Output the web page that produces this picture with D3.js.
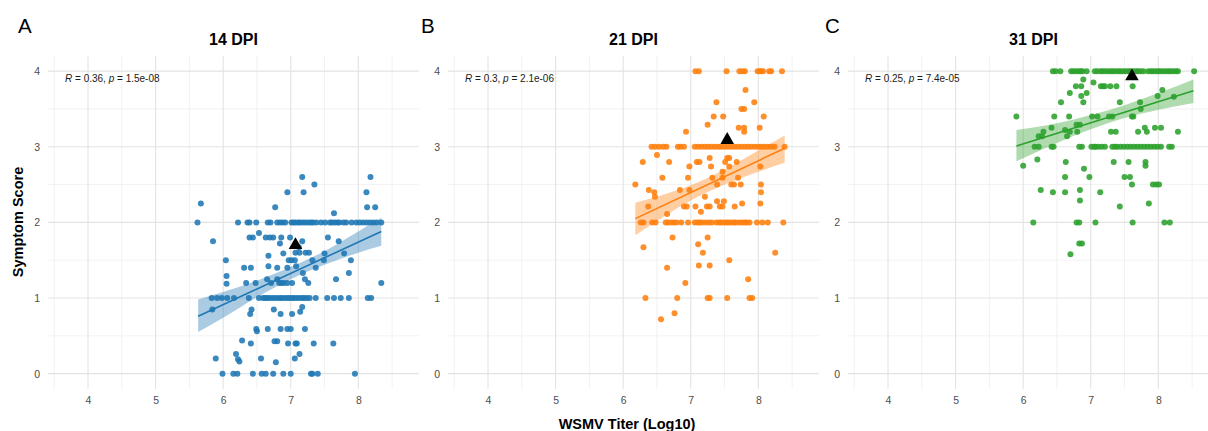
<!DOCTYPE html>
<html><head><meta charset="utf-8">
<script src="https://cdn.jsdelivr.net/npm/d3@7"></script>
<style>body{margin:0;background:#fff;} text{font-family:"Liberation Sans",Arial,Helvetica,sans-serif;}</style>
</head><body><svg id="c" width="1208" height="431"></svg>
<script>
// ---------- data ----------
const panelTitles = ["14 DPI", "21 DPI", "31 DPI"];
const panelLetters = ["A", "B", "C"];
const colors = ["#1f77b4", "#ff7f0e", "#2ca02c"];
const xTicks = [4, 5, 6, 7, 8];
const xMinor = [3.5, 4.5, 5.5, 6.5, 7.5, 8.5];
const yTicks = [0, 1, 2, 3, 4];
const yMinor = [0.5, 1.5, 2.5, 3.5];
const corR = ["0.36", "0.3", "0.25"];
const corP = ["1.5e-08", "2.1e-06", "7.4e-05"];
const corPos = [3.66, 3.85];
const means = [[7.07, 1.70], [7.54, 3.09], [7.61, 3.93]];

// Panel A (14 DPI)
const aScore2 = [5.62,6.22,6.36,6.39,6.49,6.66,6.70,6.80,6.84,6.88,6.92,7.01,7.04,7.07,7.11,7.14,7.18,7.22,7.26,7.30,7.33,7.38,7.45,7.51,7.58,7.61,7.65,7.69,7.72,7.78,7.82,7.90,7.97,8.02,8.07,8.12,8.17,8.22,8.27,8.34];
const aScore1 = [5.83,5.91,5.98,6.06,6.16,6.38,6.53,6.59,6.62,6.65,6.68,6.72,6.76,6.80,6.84,6.87,6.91,6.95,6.98,7.02,7.05,7.09,7.13,7.17,7.20,7.24,7.28,7.37,7.54,7.64,7.74,7.86,8.14,8.19];
const aScore0 = [5.99,6.15,6.21,6.44,6.57,6.63,6.74,6.89,7.00,7.30,7.32,7.40,7.95];
const aOther = [[7.17,2.60],[8.18,2.60],[7.35,2.50],[6.95,2.40],[7.19,2.40],[8.12,2.40],[5.67,2.25],[6.77,2.20],[8.13,2.20],[8.25,2.20],[7.64,2.12],
 [6.53,1.86],[6.39,1.80],[6.44,1.80],[6.63,1.80],[6.69,1.80],[6.74,1.80],[6.86,1.80],[6.99,1.80],[7.55,1.80],[5.85,1.75],[7.17,1.75],[7.71,1.75],[6.84,1.72],[7.12,1.67],
 [6.67,1.56],[6.89,1.59],[7.07,1.60],[7.13,1.60],[7.22,1.60],[7.27,1.60],[7.50,1.59],[7.79,1.59],
 [6.04,1.50],[6.97,1.50],[7.01,1.50],[7.06,1.50],[7.32,1.50],[7.49,1.50],[7.89,1.50],
 [6.31,1.40],[6.41,1.40],[6.67,1.42],[6.80,1.40],[6.95,1.40],[7.08,1.42],[7.37,1.40],[7.86,1.33],[7.18,1.33],
 [6.05,1.29],[6.05,1.19],[6.34,1.20],[6.48,1.20],[6.65,1.25],[6.71,1.20],[6.80,1.25],[6.83,1.20],[6.86,1.20],[6.90,1.20],[6.95,1.20],[7.02,1.20],[7.21,1.25],[7.26,1.20],[7.67,1.25],[8.34,1.20],
 [5.84,0.85],[6.42,0.85],[6.40,0.79],[6.75,0.85],[6.85,0.79],[7.02,0.79],[7.14,0.82],[7.17,0.88],
 [6.49,0.59],[6.50,0.56],[6.66,0.59],[6.85,0.59],[6.95,0.59],[7.00,0.59],[7.21,0.59],
 [6.28,0.44],[6.41,0.40],[6.76,0.43],[6.80,0.43],[6.96,0.40],[7.07,0.40],[7.09,0.40],[7.34,0.40],[7.63,0.40],
 [5.89,0.20],[6.19,0.26],[6.22,0.19],[6.24,0.16],[6.56,0.20],[6.78,0.15],[7.06,0.20],[7.13,0.26]];
// fit: [x, fit, lower, upper]
const aFit = [[5.63,0.76,0.55,0.98],[6.0,0.91,0.74,1.08],[6.5,1.12,1.01,1.23],[7.0,1.33,1.25,1.41],[7.5,1.53,1.44,1.62],[8.0,1.74,1.60,1.88],[8.34,1.88,1.69,2.06]];

// Panel B (21 DPI)
const bScore4 = [7.07,7.12,7.53,7.72,7.76,7.80,7.99,8.02,8.04,8.07,8.16,8.19,8.35];
const bScore3 = [6.42,6.47,6.53,6.59,6.64,6.81,6.85,6.90,7.06,7.11,7.16,7.21,7.26,7.31,7.36,7.41,7.45,7.50,7.55,7.60,7.65,7.70,7.75,7.80,7.85,7.90,7.95,8.00,8.04,8.09,8.14,8.19,8.24,8.39];
const bScore2 = [6.26,6.30,6.43,6.48,6.63,6.66,6.71,6.75,6.79,6.86,6.96,7.06,7.10,7.13,7.17,7.22,7.27,7.31,7.38,7.42,7.45,7.49,7.53,7.56,7.60,7.64,7.67,7.72,7.76,7.80,7.83,7.87,7.98,8.06,8.14,8.37];
const bScore1 = [6.33,6.80,7.25,7.28,7.54,7.87,7.91];
const bOther = [[7.81,3.75],[7.38,3.59],[7.94,3.59],[7.75,3.50],[7.79,3.50],[7.34,3.40],[7.48,3.40],[8.08,3.40],[7.25,3.29],[6.93,3.20],[7.71,3.25],[7.79,3.25],[7.79,3.20],[8.02,3.25],
 [6.29,2.80],[6.50,2.89],[6.68,2.80],[7.09,2.80],[7.13,2.80],[7.28,2.85],[7.30,2.74],[6.98,2.74],[7.54,2.85],[7.57,2.85],[7.51,2.80],[7.57,2.74],[7.68,2.80],[8.03,2.74],
 [6.58,2.59],[6.96,2.59],[7.32,2.59],[7.47,2.67],[7.47,2.59],[7.70,2.59],[6.18,2.50],[7.39,2.50],[7.60,2.50],[7.64,2.50],[7.74,2.50],[8.04,2.50],
 [6.38,2.43],[6.46,2.40],[6.84,2.43],[6.98,2.43],[6.47,2.34],[8.04,2.40],[7.21,2.34],
 [6.37,2.21],[6.90,2.21],[6.94,2.21],[7.07,2.21],[7.24,2.21],[7.28,2.21],[7.39,2.28],[7.49,2.28],[7.43,2.21],[7.47,2.21],[7.65,2.21],[7.76,2.25],[8.03,2.25],[7.15,2.14],[6.65,2.11],
 [6.73,1.80],[7.25,1.80],[6.30,1.67],[7.11,1.71],[7.18,1.60],[8.25,1.60],[7.57,1.50],[6.65,1.40],[7.12,1.43],[7.28,1.43],[7.85,1.25],[6.92,1.20],
 [6.76,0.80],[6.56,0.72]];
const bFit = [[6.18,2.05,1.83,2.26],[6.5,2.18,2.02,2.34],[7.0,2.39,2.29,2.49],[7.5,2.60,2.50,2.70],[8.0,2.81,2.67,2.95],[8.39,2.98,2.79,3.15]];

// Panel C (31 DPI)
const cScore4 = [6.44,6.48,6.55,6.71,6.74,6.78,6.82,6.85,6.88,6.94,7.06,7.10,7.15,7.18,7.22,7.26,7.30,7.33,7.37,7.41,7.44,7.48,7.52,7.56,7.59,7.63,7.67,7.70,7.74,7.78,7.85,7.89,7.92,7.96,8.00,8.03,8.07,8.11,8.15,8.18,8.22,8.26,8.29,8.53];
const cScore3 = [6.17,6.23,6.42,6.45,6.83,6.87,7.01,7.05,7.07,7.11,7.16,7.21,7.32,7.36,7.39,7.44,7.49,7.54,7.59,7.64,7.69,7.74,7.79,7.84,7.89,7.94,7.99,8.04,8.16,8.20];
const cScore2 = [6.15,6.79,6.83,7.07,7.62,8.09,8.17];
const cOther = [[6.89,3.89],[6.78,3.80],[6.86,3.80],[7.04,3.85],[7.15,3.80],[7.18,3.80],[7.21,3.80],[7.29,3.80],[7.38,3.80],[7.62,3.80],
 [6.69,3.71],[6.94,3.71],[6.86,3.67],[6.89,3.59],[6.56,3.59],[8.06,3.75],[7.99,3.67],[8.23,3.66],[7.43,3.59],[7.73,3.59],[7.74,3.50],
 [5.90,3.40],[6.46,3.40],[6.68,3.40],[7.02,3.40],[7.10,3.40],[7.27,3.40],[7.32,3.40],[7.61,3.40],[7.63,3.40],
 [6.79,3.29],[6.84,3.29],[6.42,3.25],[6.62,3.22],[6.69,3.20],[6.80,3.20],[6.30,3.20],[6.23,3.14],[6.28,3.14],[6.65,3.14],
 [7.30,3.20],[7.37,3.20],[7.70,3.20],[7.80,3.25],[7.83,3.20],[7.95,3.25],[8.04,3.25],[8.29,3.20],
 [6.21,2.83],[6.00,2.75],[6.63,2.80],[6.90,2.71],[7.34,2.80],[7.56,2.80],[7.81,2.80],[7.81,2.75],
 [6.62,2.60],[6.98,2.60],[7.50,2.60],[7.58,2.60],[7.61,2.50],[7.92,2.50],[7.97,2.50],[8.01,2.50],
 [6.26,2.43],[6.44,2.40],[6.62,2.40],[6.84,2.43],[6.84,2.29],[7.14,2.40],[7.43,2.21],[7.86,2.25],
 [6.83,1.72],[6.87,1.72],[6.70,1.58]];
const cFit = [[5.90,3.01,2.81,3.22],[6.5,3.18,3.05,3.31],[7.0,3.32,3.23,3.42],[7.5,3.46,3.38,3.55],[8.0,3.60,3.49,3.71],[8.52,3.74,3.58,3.89]];

// ---------- assemble ----------
function rows(list) { return list.flatMap(([y, xs]) => xs.map(x => [x, y])); }
const pointsA = rows([[2, aScore2], [1, aScore1], [0, aScore0]]).concat(aOther);
const pointsB = rows([[4, bScore4], [3, bScore3], [2, bScore2], [1, bScore1]]).concat(bOther);
const pointsC = rows([[4, cScore4], [3, cScore3], [2, cScore2]]).concat(cOther);
const allPoints = [pointsA, pointsB, pointsC];
const allFits = [aFit, bFit, cFit];

// ---------- layout ----------
const svg = d3.select("#c");
const panelLeft = [48, 448, 848];
const panelTop = 56, panelW = 371, panelH = 332.8;
const x = d3.scaleLinear().domain([3.408, 8.898]).range([0, panelW]);
const y = d3.scaleLinear().domain([-0.2, 4.2]).range([panelH, 0]);
const letterX = [18, 421, 825];

svg.append("rect").attr("width", 1208).attr("height", 431).attr("fill", "#fff");

panelTitles.forEach((title, i) => {
  const g = svg.append("g").attr("transform", `translate(${panelLeft[i]},${panelTop})`);
  const clip = "clip" + i;
  svg.append("clipPath").attr("id", clip).append("rect").attr("width", panelW).attr("height", panelH);

  // grid
  const grid = g.append("g");
  grid.selectAll(".vmin").data(xMinor).join("line")
    .attr("x1", d => x(d)).attr("x2", d => x(d)).attr("y1", 0).attr("y2", panelH)
    .attr("stroke", "#ececec").attr("stroke-width", 0.7);
  grid.selectAll(".hmin").data(yMinor).join("line")
    .attr("y1", d => y(d)).attr("y2", d => y(d)).attr("x1", 0).attr("x2", panelW)
    .attr("stroke", "#ececec").attr("stroke-width", 0.7);
  grid.selectAll(".vmaj").data(xTicks).join("line")
    .attr("x1", d => x(d)).attr("x2", d => x(d)).attr("y1", 0).attr("y2", panelH)
    .attr("stroke", "#e3e3e3").attr("stroke-width", 1.1);
  grid.selectAll(".hmaj").data(yTicks).join("line")
    .attr("y1", d => y(d)).attr("y2", d => y(d)).attr("x1", 0).attr("x2", panelW)
    .attr("stroke", "#e3e3e3").attr("stroke-width", 1.1);

  // axes
  const ax = g.append("g").attr("transform", `translate(0,${panelH})`)
    .call(d3.axisBottom(x).tickValues(xTicks).tickSize(0).tickPadding(8).tickFormat(d3.format("d")));
  const ay = g.append("g")
    .call(d3.axisLeft(y).tickValues(yTicks).tickSize(0).tickPadding(8).tickFormat(d3.format("d")));
  [ax, ay].forEach(a => {
    a.select(".domain").remove();
    a.selectAll("text").attr("fill", "#4d4d4d").attr("font-size", 10.5)
      .style("font-family", '"Liberation Sans", Arial, sans-serif');
  });

  const col = colors[i];
  const data = g.append("g").attr("clip-path", `url(#${clip})`);

  // points
  data.selectAll("circle").data(allPoints[i]).join("circle")
    .attr("cx", d => x(d[0])).attr("cy", d => y(d[1])).attr("r", 3)
    .attr("fill", col).attr("fill-opacity", 0.88);

  // ribbon + line
  const fit = allFits[i];
  const area = d3.area().curve(d3.curveMonotoneX).x(d => x(d[0])).y0(d => y(d[2])).y1(d => y(d[3]));
  data.append("path").datum(fit).attr("d", area).attr("fill", col).attr("fill-opacity", 0.38);
  const line = d3.line().x(d => x(d[0])).y(d => y(d[1]));
  data.append("path").datum([fit[0], fit[fit.length - 1]]).attr("d", line)
    .attr("stroke", col).attr("stroke-width", 1.6).attr("fill", "none");

  // mean triangle
  g.append("path").attr("d", d3.symbol(d3.symbolTriangle, 80)())
    .attr("transform", `translate(${x(means[i][0])},${y(means[i][1])})`).attr("fill", "#000");

  // correlation label
  const t = g.append("text").attr("x", x(corPos[0])).attr("y", y(corPos[1]))
    .attr("font-size", 10).attr("fill", "#1a1a1a");
  t.append("tspan").attr("font-style", "italic").text("R");
  t.append("tspan").text(" = " + corR[i] + ", ");
  t.append("tspan").attr("font-style", "italic").text("p");
  t.append("tspan").text(" = " + corP[i]);

  // title
  svg.append("text").attr("x", panelLeft[i] + panelW / 2).attr("y", 45)
    .attr("text-anchor", "middle").attr("font-weight", "bold").attr("font-size", 16).attr("fill", "#000").text(title);
  // panel letter
  svg.append("text").attr("x", letterX[i]).attr("y", 33)
    .attr("font-size", 20.5).attr("fill", "#000").text(panelLetters[i]);
});

// axis titles
svg.append("text").attr("x", 627).attr("y", 429).attr("text-anchor", "middle")
  .attr("font-weight", "bold").attr("font-size", 14.5).attr("fill", "#000").text("WSMV Titer (Log10)");
svg.append("text").attr("transform", "translate(23,222) rotate(-90)").attr("text-anchor", "middle")
  .attr("font-weight", "bold").attr("font-size", 14.5).attr("fill", "#000").text("Symptom Score");
</script>
</body></html>
